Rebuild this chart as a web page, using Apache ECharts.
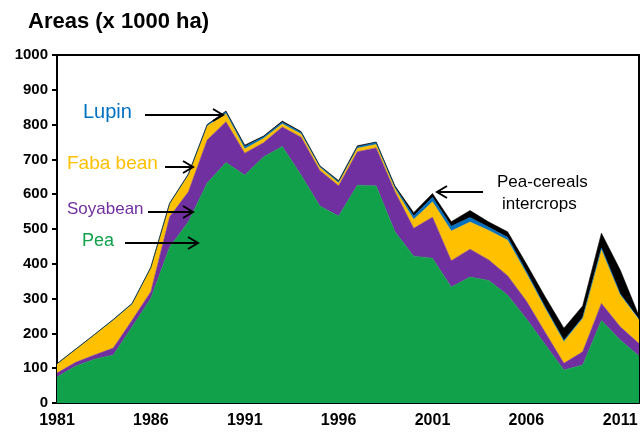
<!DOCTYPE html>
<html>
<head>
<meta charset="utf-8">
<script src="https://cdn.jsdelivr.net/npm/echarts@6/dist/echarts.min.js"></script>
<style>
  html, body { margin: 0; padding: 0; background: #fff; }
  #main { width: 641px; height: 434px; }
</style>
</head>
<body>
<div id="main"></div>
<script>
// 年份
var years = [];
for (var y = 1981; y <= 2012; y++) years.push(String(y));

// 各作物面积 (x 1000 ha)
var pea =        [75,106,126,138,219,301,448,521,632,691,655,707,737,655,566,537,626,624,492,422,416,333,362,352,310,242,168,95,109,237,181,135];
var soyabean =   [11,11,12,20,19,19,87,86,124,117,63,41,56,109,102,87,96,109,115,80,118,76,80,59,56,51,35,19,38,49,38,36];
var fabaBean =   [26,37,58,80,46,68,37,48,40,23,12,12,9,9,9,8,10,10,9,25,44,85,78,85,102,79,69,62,96,154,91,67];
var lupin =      [1,1,1,2,2,2,2,3,4,6,7,5,5,5,3,4,4,6,5,10,13,14,13,9,8,6,4,4,3,6,4,3];
var intercrops = [0,0,0,0,0,0,0,0,0,2,4,2,3,2,2,3,3,1,3,10,11,13,20,15,16,22,29,35,33,42,68,9];

var yTicks = { min: 0, max: 1000, interval: 100 };

var myChart = echarts.init(document.getElementById('main'));

function area(name, data, color) {
    return {
        name: name,
        type: 'line',
        stack: 'total',
        data: data,
        symbol: 'none',
        lineStyle: { width: 0.6, color: color },
        areaStyle: { color: color, opacity: 1 },
        emphasis: { disabled: true }
    };
}

// 箭头
function arrow(x1, x2, yy) {
    var dir = x2 > x1 ? -1 : 1;
    return [
        { type: 'line', z: 100, shape: { x1: x1, y1: yy, x2: x2, y2: yy }, style: { stroke: '#000', lineWidth: 2 } },
        { type: 'polyline', z: 100, shape: { points: [[x2 + dir * 10, yy - 6], [x2, yy], [x2 + dir * 10, yy + 6]] },
          style: { stroke: '#000', lineWidth: 2, fill: null } }
    ];
}

function label(text, x, yy, color, size) {
    return { type: 'text', z: 100, left: x, top: yy, style: { text: text, fill: color, font: size + 'px "Liberation Sans", Arial, sans-serif' } };
}

var graphics = [
    { type: 'text', left: 28, top: 11, style: { text: 'Areas (x 1000 ha)', fill: '#000', font: 'bold 22px "Liberation Sans", Arial, sans-serif' } },
    label('Lupin', 83, 102, '#0070C0', 20),
    label('Faba bean', 67, 154, '#FFC000', 19),
    label('Soyabean', 67, 201, '#7030A0', 17),
    label('Pea', 82, 232, '#11A14A', 18),
    label('Pea-cereals', 497, 174, '#000', 17),
    label('intercrops', 502, 196, '#000', 17)
].concat(arrow(145, 223, 115), arrow(165, 193, 167), arrow(148, 193, 212), arrow(125, 198, 243), arrow(483, 437, 192));

var option = {
    animation: false,
    grid: { left: 57, right: 2, top: 55, bottom: 31, show: true, borderColor: '#000', borderWidth: 2, backgroundColor: 'transparent' },
    xAxis: {
        type: 'category',
        data: years,
        boundaryGap: false,
        axisLine: { lineStyle: { color: '#000', width: 2 } },
        axisTick: { inside: true, interval: 0, length: 5, lineStyle: { color: '#000', width: 2 } },
        axisLabel: { interval: 4, color: '#000', fontWeight: 'bold', fontSize: 16, margin: 10, fontFamily: '"Liberation Sans", Arial, sans-serif' },
        splitLine: { show: false }
    },
    yAxis: {
        type: 'value',
        min: yTicks.min,
        max: yTicks.max,
        interval: yTicks.interval,
        axisLine: { show: true, lineStyle: { color: '#000', width: 2 } },
        axisTick: { show: true, length: 5, lineStyle: { color: '#000', width: 2 } },
        axisLabel: { color: '#000', fontWeight: 'bold', fontSize: 15, margin: 9, fontFamily: '"Liberation Sans", Arial, sans-serif',
                     formatter: function (v) { return String(v); } },
        splitLine: { show: false }
    },
    series: [
        area('Pea', pea, '#11A14A'),
        area('Soyabean', soyabean, '#7030A0'),
        area('Faba bean', fabaBean, '#FFC000'),
        area('Lupin', lupin, '#0070C0'),
        area('Pea-cereals intercrops', intercrops, '#000000')
    ],
    graphic: graphics
};

myChart.setOption(option);
</script>
</body>
</html>
